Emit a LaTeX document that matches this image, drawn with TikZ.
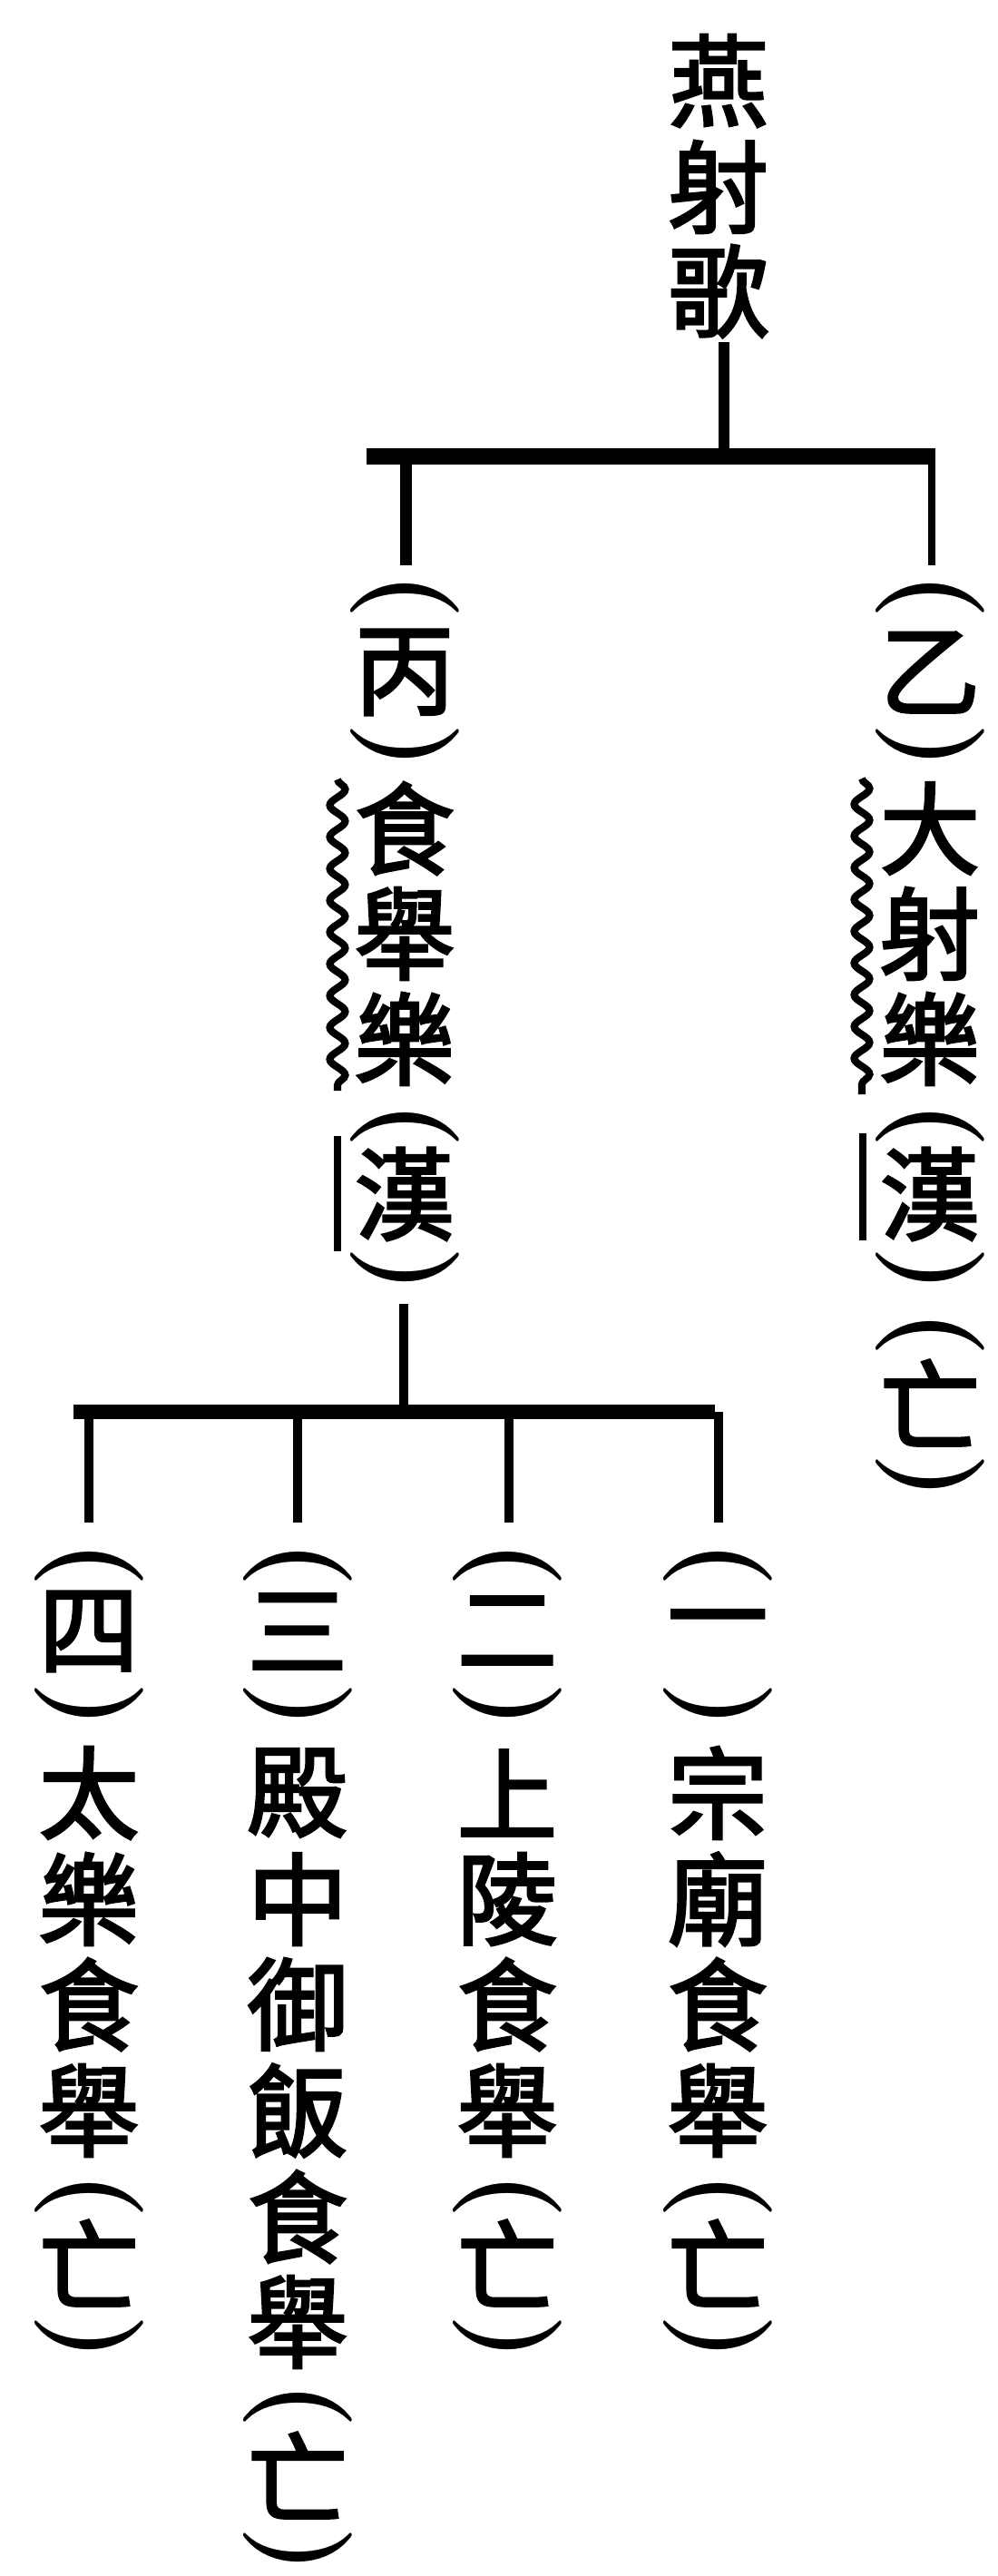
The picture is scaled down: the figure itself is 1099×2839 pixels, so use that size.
\documentclass[tikz,border=0pt]{standalone}
\usepackage{fontspec}
\newfontfamily\cjk[FakeBold=2.5]{Noto Sans CJK TC}
\usetikzlibrary{decorations.pathmorphing}
\newcommand\kuoL{(}
\newcommand\kuoR{)}
\tikzset{
  zi/.style={font=\cjk\fontsize{31.5pt}{31.5pt}\selectfont, inner sep=0pt, anchor=center},
  pa/.style={font=\bfseries\fontsize{34pt}{34pt}\selectfont, inner sep=0pt, anchor=center, rotate=-90},
  stem/.style={line width=#1, line cap=butt},
  wavy/.style={line width=2.3pt, decorate, decoration={snake, segment length=3.5mm, amplitude=0.85mm}},
  straightmk/.style={line width=2.2pt}
}
\begin{document}
\begin{tikzpicture}[x=0.1mm,y=-0.1mm]
\useasboundingbox (0,0) rectangle (1099,2839);
% title
\node[zi] (t1) at (792,89) {燕};
\node[zi] (t2) at (792,206) {射};
\node[zi] (t3) at (792,321) {歌};
% level 2 columns
\foreach \y/\s/\t [count=\i] in {657/pa/\kuoL, 741/zi/丙, 823/pa/\kuoR, 913/zi/食, 1029/zi/舉, 1145/zi/樂, 1240/pa/\kuoL, 1316/zi/漢, 1400/pa/\kuoR}
  \node[\s] (B-\i) at (446,\y) {\t};
\foreach \y/\s/\t [count=\i] in {657/pa/\kuoL, 741/zi/乙, 823/pa/\kuoR, 913/zi/大, 1029/zi/射, 1145/zi/樂, 1240/pa/\kuoL, 1316/zi/漢, 1400/pa/\kuoR, 1470/pa/\kuoL, 1546/zi/亡, 1628/pa/\kuoR}
  \node[\s] (C-\i) at (1025,\y) {\t};
% level 3 columns
\foreach \y/\s/\t [count=\i] in {1724/pa/\kuoL, 1798/zi/四, 1880/pa/\kuoR, 1976/zi/太, 2093/zi/樂, 2209/zi/食, 2326/zi/舉, 2420/pa/\kuoL, 2494/zi/亡, 2577/pa/\kuoR}
  \node[\s] (D-\i) at (98,\y) {\t};
\foreach \y/\s/\t [count=\i] in {1724/pa/\kuoL, 1798/zi/三, 1880/pa/\kuoR, 1976/zi/殿, 2093/zi/中, 2209/zi/御, 2326/zi/飯, 2443/zi/食, 2559/zi/舉, 2651/pa/\kuoL, 2728/zi/亡, 2811/pa/\kuoR}
  \node[\s] (E-\i) at (328,\y) {\t};
\foreach \y/\s/\t [count=\i] in {1724/pa/\kuoL, 1798/zi/二, 1880/pa/\kuoR, 1976/zi/上, 2093/zi/陵, 2209/zi/食, 2326/zi/舉, 2420/pa/\kuoL, 2494/zi/亡, 2577/pa/\kuoR}
  \node[\s] (F-\i) at (559,\y) {\t};
\foreach \y/\s/\t [count=\i] in {1724/pa/\kuoL, 1798/zi/一, 1880/pa/\kuoR, 1976/zi/宗, 2093/zi/廟, 2209/zi/食, 2326/zi/舉, 2420/pa/\kuoL, 2494/zi/亡, 2577/pa/\kuoR}
  \node[\s] (G-\i) at (791,\y) {\t};
% junction coordinates
\coordinate (a0) at (798,377);
\coordinate (a1) at (798,503);
\coordinate (hL) at (404,503);
\coordinate (hR) at (1031,503);
\coordinate (bT) at (447,503);
\coordinate (bB) at (447,623);
\coordinate (cT) at (1027,503);
\coordinate (cB) at (1027,623);
\coordinate (d0) at (445,1437);
\coordinate (d1) at (445,1556);
\coordinate (eL) at (81,1556);
\coordinate (eR) at (788,1556);
\foreach \n/\x in {1/98,2/328,3/561,4/792}{
  \coordinate (f\n T) at (\x,1556);
  \coordinate (f\n B) at (\x,1678);
}
% wavy and straight marks
\coordinate (wb0) at (372,859);
\coordinate (wb1) at (372,1202);
\coordinate (sb0) at (372,1252);
\coordinate (sb1) at (372,1379);
\coordinate (wc0) at (950,858);
\coordinate (wc1) at (950,1206);
\coordinate (sc0) at (951,1249);
\coordinate (sc1) at (951,1367);
% connectors
\draw[stem=3.4pt] (a0) -- (a1);
\draw[stem=5.1pt] (hL) -- (hR);
\draw[stem=3.7pt] (bT) -- (bB);
\draw[stem=2.3pt] (cT) -- (cB);
\draw[stem=2.6pt] (d0) -- (d1);
\draw[stem=4.3pt] (eL) -- (eR);
\foreach \n in {1,2,3,4} \draw[stem=3.1pt] (f\n T) -- (f\n B);
\draw[wavy] (wb0) -- (wb1);
\draw[wavy] (wc0) -- (wc1);
\draw[straightmk] (sb0) -- (sb1);
\draw[straightmk] (sc0) -- (sc1);
\end{tikzpicture}
\end{document}
